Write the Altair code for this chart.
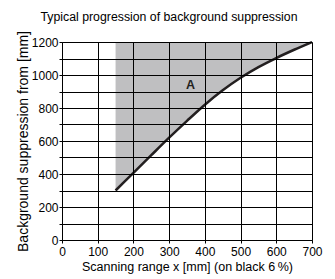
import altair as alt
import pandas as pd

# Data
scan_x = [150, 200, 250, 300, 350, 400, 450, 500, 550, 600, 650, 700]
suppression_y = [300, 407, 514, 620, 722, 820, 907, 983, 1048, 1103, 1153, 1200]
x_ticks = [0, 100, 200, 300, 400, 500, 600, 700]
y_ticks = [0, 100, 200, 300, 400, 500, 600, 700, 800, 900, 1000, 1100, 1200]
label_text = ["A"]
label_x = [360]
label_y = [940]
y_top = 1200

curve = pd.DataFrame({"x": scan_x, "y": suppression_y})
labels = pd.DataFrame({"x": label_x, "y": label_y, "t": label_text})

FONT = "Liberation Sans"
xs = alt.Scale(domain=[0, 700], nice=False, zero=False)
ys = alt.Scale(domain=[0, 1200], nice=False)

x_axis = alt.Axis(
    values=x_ticks, format="d", title="Scanning range x [mm] (on black 6\u2009%)",
    grid=True, gridColor="black", gridOpacity=1, gridWidth=1,
    domainColor="black", tickColor="black", tickSize=3,
    labelFontSize=12, labelColor="black", labelFont=FONT, labelFlush=False,
    labelPadding=3, titleFontSize=12.5, titleFontWeight="normal",
    titleColor="black", titleFont=FONT, titlePadding=3, zindex=1,
)
y_axis = alt.Axis(
    values=y_ticks, format="d", title="Background suppression from [mm]",
    labelExpr="datum.value % 200 == 0 ? datum.label : ''",
    grid=True, gridColor="black", gridOpacity=1, gridWidth=1,
    domainColor="black", tickColor="black", tickSize=3,
    labelFontSize=12, labelColor="black", labelFont=FONT, labelFlush=False,
    labelPadding=1, titleFontSize=14, titleFontWeight="normal",
    titleColor="black", titleFont=FONT, titlePadding=1, zindex=1,
)

X = alt.X("x:Q", scale=xs, axis=x_axis)
Y = alt.Y("y:Q", scale=ys, axis=y_axis)

base = alt.Chart(curve)

area = base.mark_area(color="#bfbfc1", opacity=1, interpolate="monotone").encode(
    x=X, y=Y, y2=alt.datum(y_top),
)

line = base.mark_line(color="#231f20", strokeWidth=2.5, interpolate="monotone").encode(
    x=X, y=Y,
)

text = alt.Chart(labels).mark_text(
    font=FONT, fontSize=12.5, fontWeight="bold", color="#231f20"
).encode(
    x=X, y=Y, text="t:N",
)

chart = (
    alt.layer(area, line, text)
    .properties(
        width=250,
        height=198,
        autosize=alt.AutoSizeParams(type="none"),
        padding={"left": 54, "top": 34, "right": 15, "bottom": 38},
        title=alt.TitleParams(
            "Typical progression of background suppression",
            font=FONT, fontSize=12.3, fontWeight="normal", color="black",
            anchor="middle", dx=-18, offset=7,
        ),
    )
    .configure_view(stroke="black", strokeWidth=1)
    .configure(background="white")
)

chart.save("out.html", embed_options={"renderer": "svg", "actions": False})
